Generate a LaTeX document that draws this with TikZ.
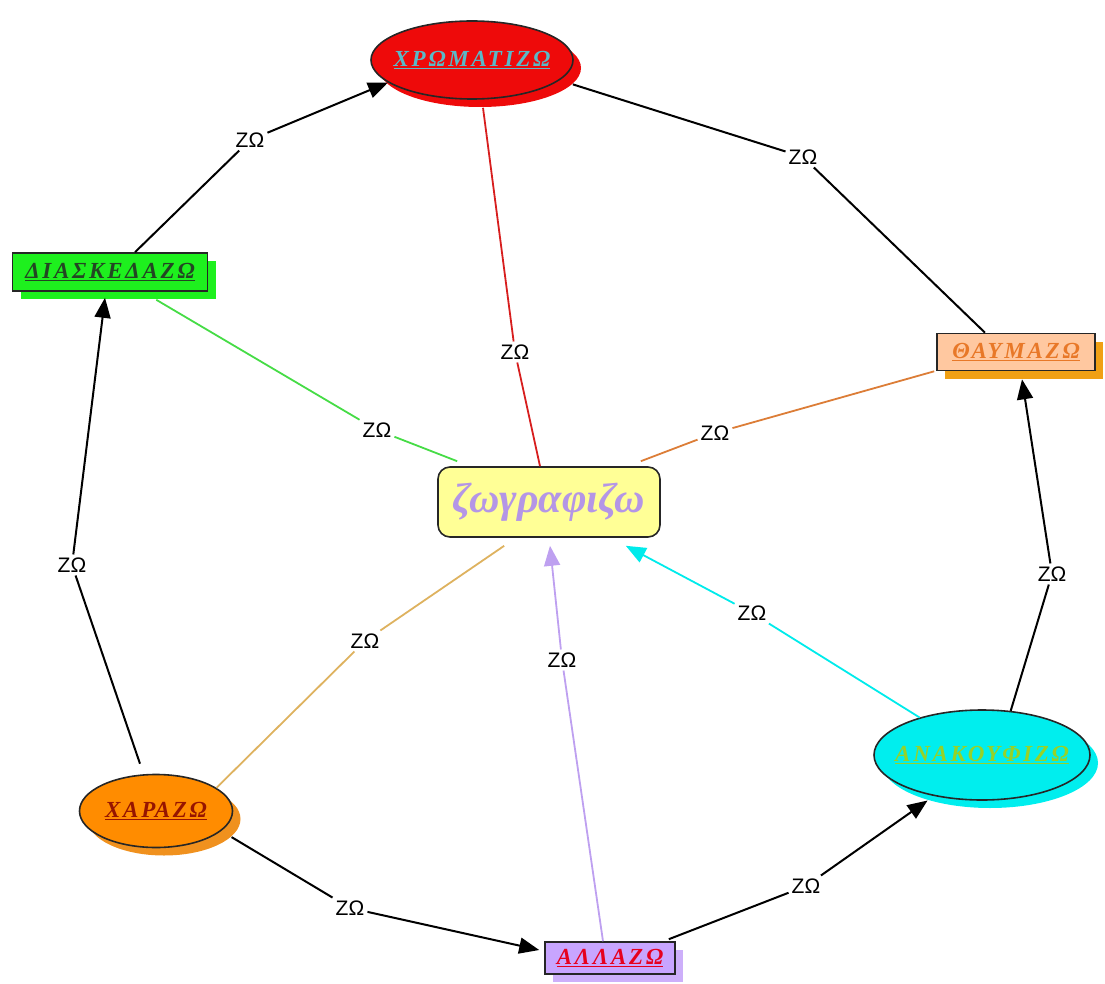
\documentclass[tikz,border=0pt]{standalone}
\usepackage{fontspec}
\setmainfont{Liberation Serif}
\newfontfamily\grk[LetterSpace=12]{Liberation Serif}
\newfontfamily\grkc{Liberation Serif}
\newfontfamily\lblfont{Liberation Sans}
\usetikzlibrary{shapes.geometric,arrows.meta,calc,shadows}
\definecolor{cRed}{RGB}{238,10,10}
\definecolor{cRedTxt}{RGB}{90,185,200}
\definecolor{cGreen}{RGB}{30,240,30}
\definecolor{cGreenTxt}{RGB}{35,70,35}
\definecolor{cPeach}{RGB}{255,200,160}
\definecolor{cOrangeSh}{RGB}{240,160,20}
\definecolor{cOrangeTxt}{RGB}{232,120,40}
\definecolor{cYellow}{RGB}{255,255,150}
\definecolor{cLav}{RGB}{180,150,230}
\definecolor{cOrange}{RGB}{255,140,0}
\definecolor{cOrange2}{RGB}{240,145,30}
\definecolor{cDarkRed}{RGB}{150,20,0}
\definecolor{cCyan}{RGB}{0,238,238}
\definecolor{cYG}{RGB}{150,210,40}
\definecolor{cLavBox}{RGB}{200,165,255}
\definecolor{cLavSh}{RGB}{205,175,250}
\definecolor{cRedT}{RGB}{230,0,30}
\definecolor{lRed}{RGB}{215,30,30}
\definecolor{lGreen}{RGB}{70,220,70}
\definecolor{lOrange}{RGB}{220,125,55}
\definecolor{lTan}{RGB}{222,178,95}
\definecolor{lLav}{RGB}{190,160,240}
\definecolor{lCyan}{RGB}{0,235,235}
\tikzset{
  nd/.style={draw=black!85, line width=1.6pt, inner sep=1pt,
    font=\grk\bfseries\itshape\fontsize{23}{27}\selectfont},
  ell/.style={nd, ellipse},
  boxnd/.style={nd, rectangle},
  shd/.style={drop shadow={shadow xshift=8pt, shadow yshift=-8pt, fill=#1, opacity=1}},
  lbl/.style={font=\lblfont\fontsize{21}{25}\selectfont, fill=white, inner sep=3pt},
  arr/.style={-{Triangle[length=20pt,width=16pt]}},
  blk/.style={black, line width=2pt},
  col/.style={draw=#1, line width=1.8pt}
}
\begin{document}
\begin{tikzpicture}[x=1pt,y=-1pt]
\useasboundingbox (0,0) rectangle (1105,984);
% nodes
\node[ell, shd=cRed, fill=cRed, text=cRedTxt, minimum width=202pt, minimum height=78pt] (chrom) at (472,60) {\makebox[0pt]{\underline{ΧΡΩΜΑΤΙΖΩ}}};
\node[boxnd, shd=cGreen, fill=cGreen, text=cGreenTxt, minimum width=195pt, minimum height=38pt] (dias) at (110,272) {\underline{ΔΙΑΣΚΕΔΑΖΩ}};
\node[boxnd, shd=cOrangeSh, fill=cPeach, text=cOrangeTxt, minimum width=158pt, minimum height=37pt] (thaum) at (1016,352) {\underline{ΘΑΥΜΑΖΩ}};
\node[nd, rectangle, rounded corners=12pt, fill=cYellow, text=cLav, minimum width=222pt, minimum height=70pt,
  font=\grkc\bfseries\itshape\fontsize{42}{46}\selectfont] (ctr) at (549,502) {\makebox[0pt]{ζωγραφιζω}};
\node[ell, shd=cOrange2, fill=cOrange, text=cDarkRed, minimum width=153pt, minimum height=73pt] (har) at (156,811) {\makebox[0pt]{\underline{ΧΑΡΑΖΩ}}};
\node[ell, shd=cCyan, fill=cCyan, text=cYG, minimum width=216pt, minimum height=90pt] (anak) at (982,755) {\makebox[0pt]{\underline{ΑΝΑΚΟΥΦΙΖΩ}}};
\node[boxnd, shd=cLavSh, fill=cLavBox, text=cRedT, minimum width=130pt, minimum height=32pt] (all) at (610,958) {\underline{ΑΛΛΑΖΩ}};
% labels
\node[lbl] (l1) at (250,140) {ZΩ};
\node[lbl] (l2) at (803,157) {ZΩ};
\node[lbl] (l3) at (1052,574) {ZΩ};
\node[lbl] (l4) at (72,565) {ZΩ};
\node[lbl] (l5) at (350,908) {ZΩ};
\node[lbl] (l6) at (806,886) {ZΩ};
\node[lbl] (l7) at (515,352) {ZΩ};
\node[lbl] (l8) at (377,430) {ZΩ};
\node[lbl] (l9) at (715,433) {ZΩ};
\node[lbl] (l10) at (365,641) {ZΩ};
\node[lbl] (l11) at (562,660) {ZΩ};
\node[lbl] (l12) at (752,613) {ZΩ};
% black connectors
\draw[blk] ($(dias.north)+(25,0)$) -- (l1);
\draw[blk,arr] (l1) -- (chrom.195);
\draw[blk] ($(chrom.-10)+(8,8)$) -- (l2);
\draw[blk] (l2) -- ($(thaum.north)+(-31,0)$);
\draw[blk] (anak.57) -- (l3);
\draw[blk,arr] (l3) -- ($(thaum.south)+(6,8)$);
\draw[blk] ($(har.north)+(-16,-10)$) -- (l4);
\draw[blk,arr] (l4) -- ($(dias.south)+(-5,6)$);
\draw[blk] ($(har.-15)+(8,8)$) -- (l5);
\draw[blk,arr] (l5) -- ($(all.west)+(-5,-8)$);
\draw[blk] ($(all.north east)+(-7,-2)$) -- (l6);
\draw[blk,arr] (l6) -- ($(anak.211)+(8,8)$);
% coloured connectors
\draw[col=lRed] ($(chrom.south)+(11,8)$) -- (l7);
\draw[col=lRed] (l7) -- ($(ctr.north)+(-9,0)$);
\draw[col=lGreen] ($(dias.south east)+(-52,8)$) -- (l8);
\draw[col=lGreen] (l8) -- ($(ctr.north west)+(20,-5)$);
\draw[col=lOrange] ($(thaum.south west)+(-2,0)$) -- (l9);
\draw[col=lOrange] (l9) -- ($(ctr.north east)+(-20,-5)$);
\draw[col=lTan] (har.21) -- (l10);
\draw[col=lTan] (l10) -- ($(ctr.south west)+(67,8)$);
\draw[col=lLav] ($(all.north)+(-7,0)$) -- (l11);
\draw[col=lLav,arr,fill=lLav] (l11) -- ($(ctr.south)+(1,8)$);
\draw[col=lCyan] (anak.149) -- (l12);
\draw[col=lCyan,arr,fill=lCyan] (l12) -- ($(ctr.south east)+(-35,8)$);
\end{tikzpicture}
\end{document}
